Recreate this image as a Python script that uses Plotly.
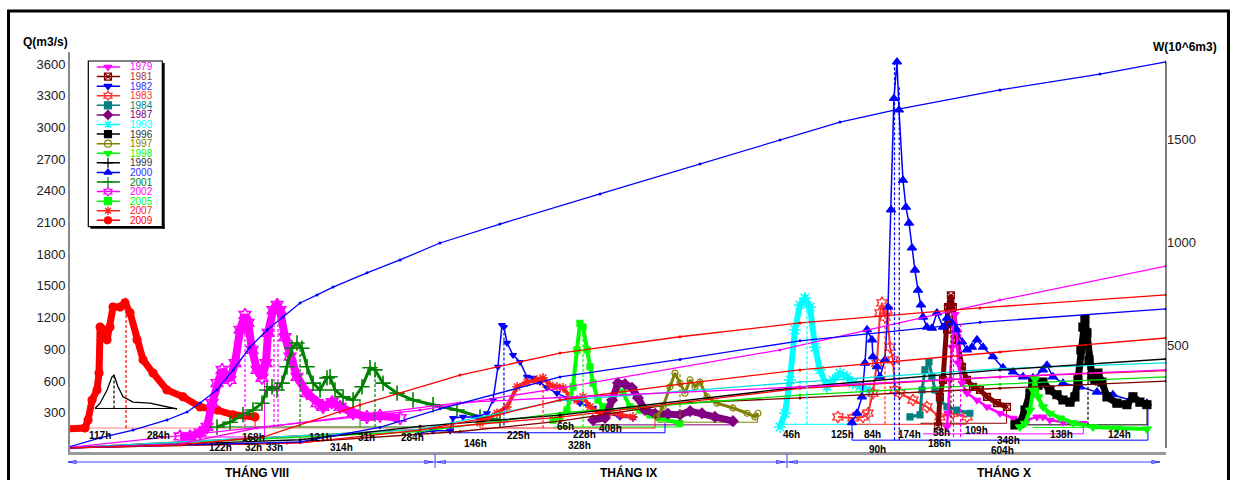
import plotly.graph_objects as go

# ---------------------------------------------------------------------------
# Flood hydrographs  (x = day counted from 1 August, y = Q in m3/s)
# ---------------------------------------------------------------------------
d_2009 = [0, 1.69, 1.95, 2.29, 2.71, 2.88, 2.97, 3.22, 3.56, 3.81, 4.07, 4.66, 5.08, 5.51,
          6.10, 6.61, 7.46, 8.64, 10.0, 11.44, 12.9, 14.24, 16.1]
q_2009 = [145, 155, 230, 420, 515, 675, 1110, 1085, 990, 1110, 1300, 1300, 1340, 1245,
          990, 800, 675, 515, 450, 355, 325, 280, 260]

d_unit = [2.54, 2.97, 3.56, 3.98, 4.15, 4.49, 4.92, 5.76, 7.20, 8.64, 9.49]
q_unit = [340, 390, 515, 640, 655, 545, 450, 400, 390, 355, 335]

d_2002 = [9.75, 10.59, 11.44, 12.03, 12.46, 12.88, 13.31, 13.73, 13.98, 14.41, 14.83, 15.25,
          15.51, 15.85, 16.27, 16.69, 17.03, 17.20, 17.63, 17.97, 18.22, 18.64, 19.07, 19.66,
          20.51, 21.36, 21.86, 22.63, 23.31, 24.41, 25.59, 26.69, 28.4]
q_2002 = [75, 75, 110, 165, 390, 580, 705, 640, 610, 770, 1085, 1225,
          1150, 895, 705, 630, 770, 1055, 1270, 1320, 1270, 1015, 830, 640,
          485, 390, 355, 400, 355, 295, 260, 270, 250]

d_2001 = [12.88, 13.98, 15.08, 15.93, 16.69, 17.12, 17.54, 17.97, 18.39, 18.81, 19.24, 19.66,
          20.08, 20.51, 21.02, 21.61, 22.20, 22.46, 22.88, 23.56, 24.41, 25.17, 25.85, 26.27,
          26.95, 28.14, 29.49, 31.19, 33.22, 35.17, 36.86]
q_2001 = [165, 210, 280, 325, 390, 515, 545, 515, 580, 735, 910, 960,
          910, 735, 580, 515, 630, 640, 515, 450, 420, 545, 725, 705,
          580, 485, 420, 375, 325, 260, 230]

d_1982 = [30.08, 31.19, 32.63, 32.88, 33.73, 34.92, 35.76, 36.27, 36.69, 37.03, 37.20, 37.46,
          37.97, 38.56, 39.15, 39.66, 40.25, 40.85, 41.69, 42.54, 43.64, 44.75, 45.93, 47.03, 48.14]
q_1982 = [110, 130, 130, 250, 260, 260, 295, 420, 735, 1130, 1110, 960,
          845, 780, 640, 630, 590, 535, 485, 440, 390, 345, 295, 260, 250]

d_2007 = [35.17, 36.61, 37.46, 38.31, 39.15, 40.0, 40.51, 41.10, 41.69, 42.20, 42.80, 43.39,
          43.90, 44.49, 45.34, 46.19, 47.03, 48.14]
q_2007 = [205, 295, 355, 545, 590, 610, 630, 560, 545, 535, 450, 420,
          450, 355, 295, 305, 280, 260]

d_2005 = [41.36, 41.95, 42.54, 43.05, 43.39, 43.64, 43.90, 44.24, 44.49, 44.75, 45.17, 45.59,
          46.19, 46.78, 47.29, 47.88, 48.73, 49.58, 50.42, 52.12]
q_2005 = [230, 260, 325, 545, 895, 1145, 1110, 895, 735, 580, 420, 355,
          325, 535, 490, 355, 325, 280, 250, 200]

d_1987 = [44.75, 45.76, 46.36, 46.86, 47.46, 48.05, 48.56, 49.15, 50.0, 51.10, 52.12, 52.97,
          53.98, 55.08, 56.61]
q_1987 = [230, 250, 420, 580, 570, 535, 440, 325, 290, 290, 280, 315, 295, 260, 220]

d_1997 = [50.17, 50.68, 51.27, 51.69, 52.12, 52.54, 52.97, 53.39, 53.81, 54.41, 55.25, 56.61,
          57.80, 58.47, 58.73]
q_1997 = [260, 355, 545, 675, 580, 485, 610, 545, 590, 450, 390, 345, 295, 260, 295]

d_1993 = [60.59, 61.02, 61.44, 61.86, 62.29, 62.71, 63.14, 63.56, 63.98, 64.58, 65.08, 65.68,
          66.27, 66.78, 67.37, 68.22]
q_1993 = [165, 295, 610, 1085, 1320, 1385, 1300, 920, 705, 545, 610, 675, 640, 580, 545, 515]

d_1983 = [65.51, 66.78, 67.63, 68.05, 68.47, 68.81, 69.07, 69.24, 69.49, 69.66, 69.92, 70.17,
          70.34, 70.76, 71.86, 73.05, 74.15, 75.25, 76.44]
q_1983 = [260, 250, 260, 295, 485, 770, 1245, 1340, 1205, 1270, 920, 800,
          515, 485, 420, 355, 260, 295, 260]

d_2000 = [66.69, 67.12, 67.54, 67.80, 67.97, 68.39, 68.47, 68.81, 69.07, 69.49, 69.75, 70.0,
          70.25, 70.51, 70.68, 71.02, 71.27, 71.53, 71.78, 72.03, 72.29, 72.54, 72.71, 73.05,
          73.47, 73.90, 74.41, 74.75, 75.17, 75.59, 76.02, 76.44, 76.86, 77.29, 77.80, 78.64,
          79.49, 80.34, 81.19, 82.03, 82.88, 83.22, 83.73, 84.58, 86.02, 87.46, 88.81, 90.25, 91.69]
q_2000 = [205, 295, 450, 770, 1085, 990, 830, 735, 640, 800, 1300, 2220,
          3275, 3620, 3165, 2500, 2245, 2095, 1860, 1650, 1460, 1320, 1205, 1110,
          1100, 1245, 1110, 1195, 1150, 1085, 970, 895, 920, 990, 920, 830,
          725, 685, 640, 630, 705, 750, 640, 580, 545, 495, 470, 420, 390]

d_1984 = [71.61, 72.46, 72.63, 72.88, 73.22, 73.47, 73.73, 74.15, 74.75, 75.59, 76.69]
q_1984 = [260, 280, 515, 705, 780, 640, 515, 420, 355, 325, 295]

d_1981 = [74.0, 74.15, 74.41, 74.75, 74.83, 75.08, 75.25, 75.59, 76.02, 76.44, 76.95, 77.54,
          78.14, 78.98, 79.83]
q_1981 = [170, 450, 610, 1085, 1300, 1410, 1300, 990, 735, 610, 545, 515, 450, 390, 355]

d_1979 = [74.75, 74.83, 75.0, 75.17, 75.25, 75.42, 75.59, 75.68, 76.02, 76.44, 77.29, 78.14,
          79.24, 80.34, 81.53, 82.37, 82.88, 83.47, 84.58, 86.27]
q_1979 = [165, 295, 610, 920, 1145, 1230, 1055, 770, 580, 485, 420, 355,
          295, 250, 230, 260, 260, 230, 210, 200]

d_1996 = [80.51, 80.93, 81.36, 81.78, 82.03, 82.46, 82.88, 83.47, 84.07, 84.58, 85.17, 85.59,
          85.85, 86.10, 86.27, 86.44, 86.61, 86.78, 87.03, 87.29, 87.54, 87.88, 88.31, 89.15,
          90.0, 90.51, 91.10, 91.69]
q_1996 = [185, 200, 325, 485, 580, 560, 590, 515, 470, 420, 400, 450,
          610, 895, 1110, 1180, 1055, 800, 640, 610, 675, 590, 450, 390,
          375, 450, 400, 375]

d_1998 = [80.93, 81.36, 81.78, 82.03, 82.20, 82.46, 82.88, 83.47, 84.32, 85.42, 87.12, 89.15, 91.69]
q_1998 = [165, 200, 325, 515, 620, 450, 355, 295, 250, 205, 165, 155, 145]

# ---------------------------------------------------------------------------
# Cumulative flood volumes (right axis, W in 10^6 m3)
# ---------------------------------------------------------------------------
wd_a = [0, 2.97, 5.76, 8.64, 10.34, 11.44, 12.88, 14.24, 15.68, 17.12, 18.47, 19.92, 21.36,
        22.71, 25.59, 28.39, 31.78, 36.86, 45.34, 53.81, 60.59, 65.68, 70.76, 79.24, 87.71, 93.31]
w_a = [0, 49, 87, 136, 175, 218, 282, 379, 490, 573, 636, 704, 743,
       781, 850, 913, 995, 1087, 1233, 1379, 1495, 1582, 1646, 1738, 1815, 1874]
wd_b = [0, 9.75, 16.78, 25.0, 33.47, 41.95, 52.12, 62.29, 77.54, 93.31]
w_b = [0, 15, 53, 209, 354, 461, 540, 607, 680, 743]
wd_c = [0, 19.92, 26.69, 31.78, 41.95, 52.12, 62.29, 77.54, 93.31]
w_c = [0, 30, 100, 190, 345, 430, 520, 610, 675]
wd_d = [0, 11.44, 30.08, 41.95, 60.59, 79.24, 93.31]
w_d = [0, 70, 184, 291, 476, 718, 883]
wd_e = [0, 9.75, 16.27, 33.47, 41.95, 62.29, 79.24, 93.31]
w_e = [0, 20, 97, 220, 245, 296, 345, 379]
wd_f = [0, 19.92, 30.08, 35.17, 41.95, 52.12, 62.29, 79.24, 93.31]
w_f = [0, 25, 87, 140, 233, 310, 379, 466, 534]
wd_g = [0, 19.92, 30.08, 41.95, 62.29, 79.24, 93.31]
w_g = [0, 40, 105, 160, 296, 379, 432]
wd_h = [0, 30.08, 41.95, 62.29, 79.24, 93.31]
w_h = [0, 90, 230, 320, 385, 413]
wd_i = [0, 30.08, 41.95, 62.29, 79.24, 93.31]
w_i = [0, 90, 150, 290, 345, 376]
wd_j = [0, 30.08, 41.95, 62.29, 79.24, 93.31]
w_j = [0, 80, 170, 257, 310, 345]
wd_k = [0, 18.81, 33.47, 41.95, 52.12, 62.29, 79.24, 93.31]
w_k = [0, 24, 80, 130, 218, 243, 290, 325]

# flood base lines: (series, start day, end day, Q)
base_lines = [
    ("2009b", 0.0, 31.8, 155), ("unit", 2.54, 9.49, 340), ("2002", 9.9, 16.9, 70),
    ("2001", 12.9, 30.5, 165), ("1982", 32.9, 50.85, 110), ("2007", 35.2, 50.0, 155),
    ("2005", 41.4, 52.3, 165), ("1987", 44.75, 56.8, 185), ("1997", 50.2, 58.7, 210),
    ("1993", 60.6, 68.2, 190), ("1983", 66.8, 76.4, 190), ("2000", 66.7, 91.78, 40),
    ("1981", 72.5, 79.8, 200), ("1979", 72.7, 86.3, 100), ("1996", 80.5, 91.7, 185),
    ("1998", 82.0, 86.3, 160),
]
# closing verticals of the flood windows: (series, day, Q top, Q bottom)
end_lines = [
    ("2009", 16.1, 260, 155), ("2002", 16.9, 630, 70), ("2001", 25.0, 420, 165),
    ("1982", 32.9, 250, 110), ("1982", 50.85, 200, 110), ("2007", 50.0, 260, 155),
    ("1997", 58.7, 295, 210), ("1993", 68.2, 515, 190), ("2000", 66.7, 205, 40),
    ("2000", 91.78, 390, 40), ("1981", 79.8, 355, 200), ("1979", 86.3, 200, 100),
    ("1996", 91.7, 375, 185),
]
# dashed lines dropped from the flood peaks: (series, day, Q peak, Q base)
peak_lines = [
    ("2009", 5.17, 1340, 155), ("unit", 4.15, 655, 340), ("2002", 15.25, 1225, 165),
    ("2002", 17.71, 1320, 165), ("2002", 18.05, 1320, 165), ("2001", 19.92, 960, 165),
    ("2001", 26.27, 705, 165), ("1982", 37.2, 1130, 180), ("2007", 40.51, 630, 155),
    ("2005", 43.9, 1145, 165), ("1997", 52.12, 675, 210), ("1993", 62.88, 1385, 190),
    ("1983", 69.49, 1340, 190), ("2000", 70.3, 3620, 40), ("2000", 70.7, 3400, 40),
    ("1981", 75.08, 1410, 200), ("1979", 75.3, 1150, 70), ("1979", 75.9, 1150, 70),
    ("1996", 86.7, 1180, 185),
]
# flood duration labels: (text, day, Q)
hour_labels = [
    ("117h", 2.97, 80), ("284h", 7.88, 80), ("122h", 13.14, -25), ("168h", 15.93, 70),
    ("32h", 15.93, -25), ("33h", 17.71, -25), ("121h", 21.61, 70), ("314h", 23.47, -25),
    ("31h", 25.59, 70), ("284h", 29.49, 70), ("146h", 34.75, 4), ("225h", 38.39, 85),
    ("66h", 42.4, 165), ("228h", 44.0, 98), ("328h", 43.64, -15), ("408h", 46.19, 155),
    ("46h", 61.61, 89), ("125h", 65.85, 89), ("84h", 68.47, 98), ("90h", 68.9, -50),
    ("174h", 71.61, 98), ("58h", 74.32, 117), ("186h", 74.15, 4), ("109h", 77.29, 136),
    ("348h", 79.92, 35), ("604h", 79.49, -58), ("138h", 84.49, 89), ("124h", 89.41, 89),
]

legend_years = ["1979", "1981", "1982", "1983", "1984", "1987", "1993", "1996", "1997",
                "1998", "1999", "2000", "2001", "2002", "2005", "2007", "2009"]
q_ticks = [300, 600, 900, 1200, 1500, 1800, 2100, 2400, 2700, 3000, 3300, 3600]
w_ticks = [500, 1000, 1500]
month_names = ["THÁNG VIII", "THÁNG IX", "THÁNG X"]
month_edges = [0.25, 31.36, 61.19, 92.8]
month_label_days = [16.3, 47.75, 79.6]

# ---------------------------------------------------------------------------
# styles
# ---------------------------------------------------------------------------
FONT = "Liberation Sans, Arial, sans-serif"
X_RANGE = [0.42, 93.31]
Q_RANGE = [-72, 3714]
W_RANGE = [-19.4, 1922]

COLOR = {
    "1979": "#ff00ff", "1981": "#800000", "1982": "#0000ff", "1983": "#ff3030",
    "1984": "#008080", "1987": "#800080", "1993": "#00ffff", "1996": "#000000",
    "1997": "#808000", "1998": "#00ff00", "1999": "#000000", "2000": "#0000ff",
    "2001": "#008000", "2002": "#ff00ff", "2005": "#00ff00", "2007": "#ff2020",
    "2009": "#ff0000", "unit": "#000000", "2009b": "#ff8080",
}
TEXT_COLOR = dict(COLOR, **{"1981": "#a04040", "1982": "#3030ff", "2000": "#3030ff",
                            "1996": "#333333", "1999": "#333333"})
SYMBOL = {
    "1979": "triangle-down", "1981": "square-x-open", "1982": "triangle-down",
    "1983": "hexagram-open", "1984": "square", "1987": "diamond", "1993": "asterisk-open",
    "1996": "square", "1997": "circle-open", "1998": "triangle-down", "1999": "cross-thin-open",
    "2000": "triangle-up", "2001": "cross-thin-open", "2002": "hexagram-open",
    "2005": "square", "2007": "asterisk-open", "2009": "circle",
}

fig = go.Figure()


def to_paper_x(day):
    return (day - X_RANGE[0]) / (X_RANGE[1] - X_RANGE[0])


# flood windows (base lines and end verticals) sit under the curves
for key, d0, d1, q in base_lines:
    fig.add_shape(type="line", xref="x", yref="y", x0=d0, x1=d1, y0=q, y1=q,
                  line=dict(color=COLOR[key], width=1), layer="below")
for key, d, q_top, q_bot in end_lines:
    fig.add_shape(type="line", xref="x", yref="y", x0=d, x1=d, y0=q_bot, y1=q_top,
                  line=dict(color=COLOR[key], width=1), layer="below")


def hydro(d, q, key, lw, ms, mlw=1.2):
    c = COLOR[key]
    fig.add_trace(go.Scatter(
        x=d, y=q, mode="lines+markers", line=dict(color=c, width=lw),
        marker=dict(symbol=SYMBOL.get(key, "circle"), size=ms, color=c,
                    line=dict(color=c, width=mlw)),
        showlegend=False, hoverinfo="skip"))


# small design hydrograph without markers
fig.add_trace(go.Scatter(x=d_unit, y=q_unit, mode="lines",
                         line=dict(color="#000000", width=1.3),
                         showlegend=False, hoverinfo="skip"))

hydro(d_2009, q_2009, "2009", 7, 8)
hydro(d_2002, q_2002, "2002", 8, 10, 1.6)
hydro(d_2001, q_2001, "2001", 3, 11, 1.6)
hydro(d_1982, q_1982, "1982", 1.5, 6)
hydro(d_2007, q_2007, "2007", 4, 8, 1.5)
hydro(d_2005, q_2005, "2005", 4, 6)
hydro(d_1987, q_1987, "1987", 7, 8)
hydro(d_1997, q_1997, "1997", 3, 6)
hydro(d_1993, q_1993, "1993", 6, 10, 1.5)
hydro(d_1983, q_1983, "1983", 2, 9, 1.3)
hydro(d_1984, q_1984, "1984", 3, 6)
hydro(d_1981, q_1981, "1981", 5, 7)
hydro(d_1979, q_1979, "1979", 2.5, 7)
hydro(d_2000, q_2000, "2000", 1.5, 8)
hydro(d_1996, q_1996, "1996", 7, 8)
hydro(d_1998, q_1998, "1998", 4, 8)

# dashed peak markers
for key, d, q_top, q_bot in peak_lines:
    fig.add_shape(type="line", xref="x", yref="y", x0=d, x1=d, y0=q_bot, y1=q_top,
                  line=dict(color=COLOR[key], width=1.2, dash="3px,2px"), layer="above")

# cumulative volume curves on the right axis
for wd, w, c in [(wd_k, w_k, "#800000"), (wd_j, w_j, "#00e000"), (wd_i, w_i, "#ff0000"),
                 (wd_h, w_h, "#00e0e0"), (wd_g, w_g, "#000000"), (wd_f, w_f, "#ff0000"),
                 (wd_e, w_e, "#ff00ff"), (wd_d, w_d, "#ff00ff"), (wd_c, w_c, "#0000ff"),
                 (wd_b, w_b, "#ff0000"), (wd_a, w_a, "#0000ff")]:
    fig.add_trace(go.Scatter(x=wd, y=w, yaxis="y2", mode="lines+markers",
                             line=dict(color=c, width=1.3),
                             marker=dict(size=3, color=c),
                             showlegend=False, hoverinfo="skip"))

# legend panel, drawn on its own small subplot
LEG_X = [0.114, 0.266, 0.428]
for i, yr in enumerate(legend_years):
    c = COLOR[yr]
    fig.add_trace(go.Scatter(
        x=LEG_X, y=[i, i, i], xaxis="x3", yaxis="y3", mode="lines+markers",
        line=dict(color=c, width=1.5),
        marker=dict(symbol=SYMBOL[yr], size=7, color=c, opacity=[0, 1, 0],
                    line=dict(color=c, width=1.2)),
        showlegend=False, hoverinfo="skip"))
    fig.add_annotation(x=0.53, y=i, xref="x3", yref="y3", text=yr, showarrow=False,
                       xanchor="left", yanchor="middle",
                       font=dict(family=FONT, size=10, color=TEXT_COLOR[yr]))

LEG_BOX = [0.0167, 0.0842, 0.5633, 0.9775]
fig.add_shape(type="rect", xref="paper", yref="paper", x0=LEG_BOX[0], x1=LEG_BOX[1],
              y0=LEG_BOX[2], y1=LEG_BOX[3], line=dict(color="black", width=1.2))
fig.add_shape(type="rect", xref="paper", yref="paper", x0=LEG_BOX[1], x1=LEG_BOX[1] + 0.0022,
              y0=LEG_BOX[2] - 0.005, y1=LEG_BOX[3] - 0.005, fillcolor="black", line_width=0)
fig.add_shape(type="rect", xref="paper", yref="paper", x0=LEG_BOX[0] + 0.002,
              x1=LEG_BOX[1] + 0.0022, y0=LEG_BOX[2] - 0.005, y1=LEG_BOX[2],
              fillcolor="black", line_width=0)

# duration labels
for txt, d, q in hour_labels:
    fig.add_annotation(x=d, y=q, xref="x", yref="y", text=txt, showarrow=False,
                       xanchor="center", yanchor="middle",
                       font=dict(family=FONT, size=10, color="black", weight="bold"))

# right-hand volume axis line
fig.add_shape(type="line", xref="paper", yref="y2", x0=1.0, x1=1.0, y0=0, y1=1874,
              line=dict(color="black", width=1))

# month brackets beneath the time axis
BR_Y = -0.025
AR_W, AR_H = 0.0075, 0.0075
bracket_color = "#4040ff"
fig.add_shape(type="line", xref="paper", yref="paper", x0=to_paper_x(month_edges[0]),
              x1=to_paper_x(month_edges[-1]), y0=BR_Y, y1=BR_Y,
              line=dict(color=bracket_color, width=1))
for e in month_edges[1:-1]:
    fig.add_shape(type="line", xref="paper", yref="paper", x0=to_paper_x(e), x1=to_paper_x(e),
                  y0=-0.005, y1=-0.04, line=dict(color=bracket_color, width=1))
for i in range(len(month_names)):
    xl = to_paper_x(month_edges[i]) + (0.0 if i == 0 else 0.002)
    xr = to_paper_x(month_edges[i + 1]) - (0.0 if i == len(month_names) - 1 else 0.002)
    fig.add_shape(type="path", xref="paper", yref="paper",
                  path=f"M {xl + AR_W} {BR_Y + AR_H / 2} L {xl} {BR_Y} L {xl + AR_W} {BR_Y - AR_H / 2} Z",
                  line=dict(color=bracket_color, width=1))
    fig.add_shape(type="path", xref="paper", yref="paper",
                  path=f"M {xr - AR_W} {BR_Y + AR_H / 2} L {xr} {BR_Y} L {xr - AR_W} {BR_Y - AR_H / 2} Z",
                  line=dict(color=bracket_color, width=1))
    fig.add_annotation(x=to_paper_x(month_label_days[i]), y=-0.05, xref="paper", yref="paper",
                       text=month_names[i], showarrow=False, xanchor="center", yanchor="middle",
                       font=dict(family=FONT, size=12, color="black", weight="bold"))

# axis captions
fig.add_annotation(x=-0.0219, y=1.025, xref="paper", yref="paper", text="Q(m3/s)",
                   showarrow=False, xanchor="center", yanchor="middle",
                   font=dict(family=FONT, size=12, color="black", weight="bold"))
fig.add_annotation(x=1.0173, y=1.0125, xref="paper", yref="paper", text="W(10^6m3)",
                   showarrow=False, xanchor="center", yanchor="middle",
                   font=dict(family=FONT, size=12, color="black", weight="bold"))

# outer frame
fig.add_shape(type="rect", xref="paper", yref="paper", x0=-0.0561, x1=1.057, y0=-0.1,
              y1=1.1025, line=dict(color="black", width=3))

fig.update_layout(
    width=1236, height=480,
    margin=dict(l=70, r=70, t=52, b=28, pad=0),
    paper_bgcolor="white", plot_bgcolor="rgba(0,0,0,0)",
    showlegend=False, hovermode=False,
    font=dict(family=FONT),
    xaxis=dict(range=X_RANGE, showgrid=False, zeroline=False, showticklabels=False,
               ticks="", showline=True, linecolor="#9a9a9a", linewidth=3),
    yaxis=dict(range=Q_RANGE, tickvals=q_ticks, showgrid=False, zeroline=False, ticks="",
               showline=True, linecolor="#8a8a8a", linewidth=2,
               tickfont=dict(family=FONT, size=13, color="#222222")),
    yaxis2=dict(range=W_RANGE, overlaying="y", side="right", tickvals=w_ticks,
                showgrid=False, zeroline=False, ticks="", showline=False,
                tickfont=dict(family=FONT, size=13, color="#222222")),
    xaxis3=dict(domain=[LEG_BOX[0], LEG_BOX[1]], range=[0, 1], anchor="y3", visible=False),
    yaxis3=dict(domain=[LEG_BOX[2], LEG_BOX[3]], range=[16.66, -0.626], anchor="x3",
                visible=False),
)

fig.write_html("out.html")
